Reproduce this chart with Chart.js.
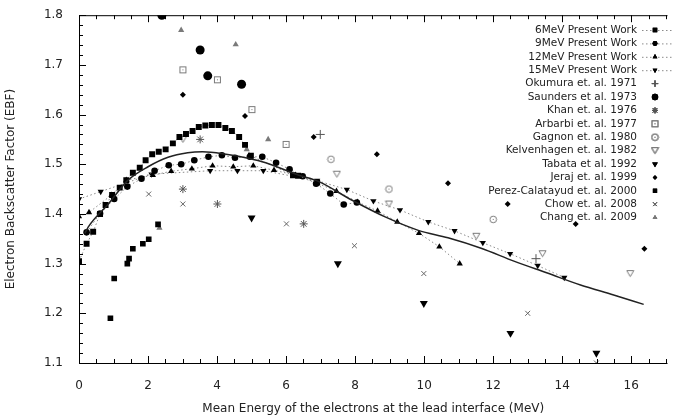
<!DOCTYPE html>
<html>
<head>
<meta charset="utf-8">
<script src="https://cdn.jsdelivr.net/npm/chart.js@4.4.0/dist/chart.umd.min.js"></script>
<style>
  html, body { margin: 0; padding: 0; background: #fff; }
</style>
</head>
<body>
<canvas id="chart" width="673" height="418"></canvas>
<script>
// present work, dotted series
var mev6X = [0, 0.22, 0.41, 0.61, 0.77, 0.96, 1.18, 1.37, 1.56, 1.76, 1.93, 2.12, 2.31, 2.51, 2.72, 2.91, 3.10, 3.29, 3.47, 3.66, 3.85, 4.04, 4.24, 4.43, 4.64, 4.81, 4.98, 6.20, 6.35, 6.90];
var mev6Y = [1.305, 1.34, 1.364, 1.40, 1.418, 1.438, 1.453, 1.468, 1.483, 1.493, 1.508, 1.52, 1.525, 1.53, 1.542, 1.555, 1.561, 1.567, 1.575, 1.578, 1.579, 1.579, 1.573, 1.567, 1.555, 1.539, 1.517, 1.478, 1.477, 1.463];

var mev9X = [0.22, 0.61, 1.02, 1.40, 1.81, 2.19, 2.60, 2.96, 3.34, 3.75, 4.14, 4.52, 4.95, 5.31, 5.71, 6.10, 6.48, 6.87, 7.28, 7.67, 8.05];
var mev9Y = [1.363, 1.401, 1.43, 1.455, 1.471, 1.487, 1.498, 1.50, 1.508, 1.515, 1.518, 1.513, 1.515, 1.515, 1.503, 1.49, 1.476, 1.461, 1.441, 1.419, 1.423];

var mev12X = [0, 0.29, 0.94, 1.37, 2.14, 2.67, 3.27, 3.87, 4.47, 5.05, 5.65, 6.27, 6.89, 7.46, 8.07, 8.65, 9.22, 9.85, 10.44, 11.03];
var mev12Y = [1.395, 1.403, 1.438, 1.468, 1.478, 1.486, 1.491, 1.497, 1.495, 1.497, 1.488, 1.478, 1.462, 1.446, 1.424, 1.406, 1.384, 1.361, 1.334, 1.30];

var mev15X = [0, 0.63, 2.10, 3.80, 4.59, 5.34, 6.90, 7.76, 8.53, 9.30, 10.12, 10.88, 11.70, 12.49, 13.29, 14.06];
var mev15Y = [1.43, 1.445, 1.48, 1.487, 1.487, 1.487, 1.467, 1.449, 1.426, 1.408, 1.384, 1.366, 1.342, 1.32, 1.296, 1.272];

// solid fit curve
var fitX = [0.17, 0.27, 0.85, 1.42, 2.0, 2.58, 3.15, 3.58, 4.26, 4.9, 5.41, 6.37, 6.95, 7.9, 8.87, 9.83, 10.69, 11.65, 12.6, 13.57, 14.53, 15.49, 16.36];
var fitY = [1.361, 1.374, 1.42, 1.468, 1.495, 1.514, 1.523, 1.525, 1.52, 1.512, 1.503, 1.478, 1.465, 1.428, 1.394, 1.367, 1.352, 1.331, 1.305, 1.281, 1.257, 1.237, 1.218];

// published data
var okumuraX = [6.99, 13.24];
var okumuraY = [1.56, 1.31];
var saundersX = [2.40, 3.51, 3.73, 4.71];
var saundersY = [1.80, 1.73, 1.678, 1.661];
var khanX = [3.51, 3.01, 4.01, 6.51];
var khanY = [1.55, 1.45, 1.42, 1.38];
var arbarbiX = [3.01, 4.01, 5.01, 6.0];
var arbarbiY = [1.69, 1.67, 1.61, 1.54];
var gagnonX = [7.30, 8.98, 12.0];
var gagnonY = [1.51, 1.45, 1.389];
var kelvenX = [3.01, 7.47, 8.98, 11.51, 13.43, 15.97];
var kelvenY = [1.55, 1.48, 1.42, 1.355, 1.32, 1.28];
var tabataX = [5.0, 7.5, 9.99, 12.5, 14.99];
var tabataY = [1.392, 1.30, 1.22, 1.16, 1.12];
var jerajX = [3.01, 4.81, 6.80, 8.63, 10.69, 12.42, 14.39, 16.38];
var jerajY = [1.64, 1.597, 1.555, 1.52, 1.462, 1.42, 1.38, 1.33];
var perezX = [0.91, 1.02, 1.40, 1.45, 1.56, 1.85, 2.02, 2.29];
var perezY = [1.19, 1.27, 1.30, 1.31, 1.33, 1.34, 1.349, 1.379];
var chowX = [2.02, 3.01, 6.01, 7.98, 9.99, 13.0, 14.99];
var chowY = [1.44, 1.42, 1.38, 1.336, 1.28, 1.20, 1.10];
var changX = [2.96, 4.54, 4.86, 5.48, 2.33];
var changY = [1.77, 1.741, 1.53, 1.55, 1.372];

var seriesNames = [
  "6MeV Present Work", "9MeV Present Work", "12MeV Present Work", "15MeV Present Work",
  "Okumura et. al. 1971", "Saunders et al. 1973", "Khan et. al. 1976", "Arbarbi et. al. 1977",
  "Gagnon et. al. 1980", "Kelvenhagen et. al. 1982", "Tabata et al. 1992", "Jeraj et. al. 1999",
  "Perez-Calatayud et. al. 2000", "Chow et. al. 2008", "Chang et. al. 2009"
];

var xTicks = [0, 2, 4, 6, 8, 10, 12, 14, 16];
var yTicks = [1.1, 1.2, 1.3, 1.4, 1.5, 1.6, 1.7, 1.8];

var GREY = "#7a7a7a";
var FONT = "'DejaVu Sans', sans-serif";

function zip(xs, ys) {
  return xs.map(function (x, i) { return { x: x, y: ys[i] }; });
}

// hollow markers with a centre dot
function makeMarker(kind) {
  var c = document.createElement("canvas");
  c.width = 9; c.height = 9;
  var g = c.getContext("2d");
  g.strokeStyle = GREY;
  g.fillStyle = GREY;
  g.lineWidth = 1;
  if (kind == "box") {
    g.strokeRect(1.5, 1.5, 6, 6);
    g.fillRect(4, 4, 1, 1);
  } else if (kind == "ring") {
    g.beginPath(); g.arc(4.5, 4.5, 3.3, 0, Math.PI * 2); g.stroke();
    g.fillRect(4, 4, 1, 1);
  } else {
    g.beginPath(); g.moveTo(1, 1.5); g.lineTo(8, 1.5); g.lineTo(4.5, 7.5); g.closePath(); g.stroke();
  }
  return c;
}
var boxDot = makeMarker("box");
var ringDot = makeMarker("ring");
var hollowDown = makeMarker("down");

function present(label, xs, ys, style, r, rot) {
  return {
    label: label, data: zip(xs, ys), showLine: true,
    borderColor: "#8a8a8a", borderWidth: 1, borderDash: [1.5, 2.5],
    pointStyle: style, pointRadius: r, pointRotation: rot || 0,
    backgroundColor: "#000", pointBorderColor: "#000", pointBorderWidth: 0,
    order: 2
  };
}

function marks(label, xs, ys, style, r, color, rot, bw) {
  return {
    label: label, data: zip(xs, ys), showLine: false,
    pointStyle: style, pointRadius: r, pointRotation: rot || 0,
    backgroundColor: color, pointBorderColor: color, pointBorderWidth: bw || 0,
    order: 3
  };
}

var datasets = [
  present(seriesNames[0], mev6X, mev6Y, "rect", 4.2),
  present(seriesNames[1], mev9X, mev9Y, "circle", 3.3),
  present(seriesNames[2], mev12X, mev12Y, "triangle", 3.6),
  present(seriesNames[3], mev15X, mev15Y, "triangle", 3.6, 180),
  marks(seriesNames[4], okumuraX, okumuraY, "cross", 4.5, "#555", 0, 1),
  marks(seriesNames[5], saundersX, saundersY, "circle", 4.5, "#000"),
  marks(seriesNames[6], khanX, khanY, "star", 4, "#555", 0, 1),
  marks(seriesNames[7], arbarbiX, arbarbiY, boxDot, 4.5, GREY),
  marks(seriesNames[8], gagnonX, gagnonY, ringDot, 4.5, GREY),
  marks(seriesNames[9], kelvenX, kelvenY, hollowDown, 4.5, GREY),
  marks(seriesNames[10], tabataX, tabataY, "triangle", 4.6, "#000", 180),
  marks(seriesNames[11], jerajX, jerajY, "rectRot", 3, "#000"),
  marks(seriesNames[12], perezX, perezY, "rect", 4, "#000"),
  marks(seriesNames[13], chowX, chowY, "crossRot", 3.5, "#666", 0, 1),
  marks(seriesNames[14], changX, changY, "triangle", 3.6, GREY),
  {
    label: "fit", data: zip(fitX, fitY), showLine: true,
    borderColor: "#222", borderWidth: 1.5, pointRadius: 0,
    cubicInterpolationMode: "monotone", order: 1
  }
];

// box, inward major and minor ticks
var frame = {
  id: "frame",
  afterDatasetsDraw: function (chart) {
    var ctx = chart.ctx, a = chart.chartArea;
    var sx = chart.scales.x, sy = chart.scales.y;
    ctx.save();
    ctx.strokeStyle = "#000";
    ctx.lineWidth = 1;
    ctx.beginPath();
    ctx.moveTo(a.right, a.top + 0.5); ctx.lineTo(a.left + 0.5, a.top + 0.5);
    ctx.lineTo(a.left + 0.5, a.bottom + 0.5); ctx.lineTo(a.right, a.bottom + 0.5);
    for (var i = 0; i <= 34; i++) {
      var v = i * 0.5;
      var px = Math.round(sx.getPixelForValue(v)) + 0.5;
      var len = (i % 4 == 0) ? 7 : 4;
      ctx.moveTo(px, a.bottom); ctx.lineTo(px, a.bottom - len);
      ctx.moveTo(px, a.top); ctx.lineTo(px, a.top + len);
    }
    for (var j = 0; j <= 35; j++) {
      var py = Math.round(sy.getPixelForValue(1.1 + j * 0.02)) + 0.5;
      var l2 = (j % 5 == 0) ? 7 : 4;
      ctx.moveTo(a.left, py); ctx.lineTo(a.left + l2, py);
    }
    ctx.stroke();
    ctx.restore();
  }
};

// key in the upper right corner, text right aligned
var key = {
  id: "key",
  afterDraw: function (chart) {
    var ctx = chart.ctx;
    ctx.save();
    ctx.font = "10.5px " + FONT;
    ctx.textAlign = "right";
    ctx.textBaseline = "middle";
    for (var i = 0; i < seriesNames.length; i++) {
      var ds = chart.data.datasets[i];
      var y = 30 + i * 13.4;
      ctx.fillStyle = "#222";
      ctx.fillText(seriesNames[i], 637, y);
      if (ds.showLine) {
        ctx.save();
        ctx.strokeStyle = "#8a8a8a";
        ctx.setLineDash([1.5, 2.5]);
        ctx.beginPath(); ctx.moveTo(642, y + 0.5); ctx.lineTo(673, y + 0.5); ctx.stroke();
        ctx.restore();
      }
      Chart.helpers.drawPoint(ctx, {
        pointStyle: ds.pointStyle,
        radius: Math.min(ds.pointRadius * 0.75, 3.2),
        rotation: ds.pointRotation,
        borderWidth: ds.pointBorderWidth
      }, 655, y);
      ctx.fillStyle = ds.backgroundColor;
      ctx.strokeStyle = ds.pointBorderColor;
      ctx.lineWidth = ds.pointBorderWidth || 0;
      var st = ds.pointStyle;
      ctx.beginPath();
      var r = Math.min(ds.pointRadius * 0.75, 3.2);
      if (typeof st != "string") {
        ctx.drawImage(st, 655 - st.width / 2, y - st.height / 2);
      } else {
        Chart.helpers.drawPoint(ctx, { pointStyle: st, radius: r, rotation: ds.pointRotation, borderWidth: ds.pointBorderWidth }, 655, y);
        ctx.fill();
        if (ds.pointBorderWidth) ctx.stroke();
      }
    }
    ctx.restore();
  }
};

new Chart(document.getElementById("chart"), {
  type: "scatter",
  data: { datasets: datasets },
  options: {
    responsive: false,
    animation: false,
    layout: { padding: { left: 0, right: 0, top: 15, bottom: 0 } },
    plugins: { legend: { display: false }, tooltip: { enabled: false } },
    scales: {
      x: {
        type: "linear", min: 0, max: 17.05,
        afterBuildTicks: function (s) { s.ticks = xTicks.map(function (v) { return { value: v }; }); },
        afterFit: function (s) { s.height = 55; },
        grid: { display: false },
        border: { display: false },
        ticks: { color: "#222", font: { family: FONT, size: 12 }, padding: 8 },
        title: { display: true, text: "Mean Energy of the electrons at the lead interface (MeV)", color: "#222", font: { family: FONT, size: 12 }, padding: { top: 4, bottom: 2 } }
      },
      y: {
        type: "linear", min: 1.1, max: 1.8,
        afterBuildTicks: function (s) { s.ticks = yTicks.map(function (v) { return { value: v }; }); },
        afterFit: function (s) { s.width = 79; },
        grid: { display: false },
        border: { display: false },
        ticks: { color: "#222", font: { family: FONT, size: 12 }, padding: 8, callback: function (v) { return v.toFixed(1); } },
        title: { display: true, text: "Electron Backscatter Factor (EBF)", color: "#222", font: { family: FONT, size: 12 }, padding: { top: 4, bottom: 4 } }
      }
    }
  },
  plugins: [frame, key]
});
</script>
</body>
</html>
